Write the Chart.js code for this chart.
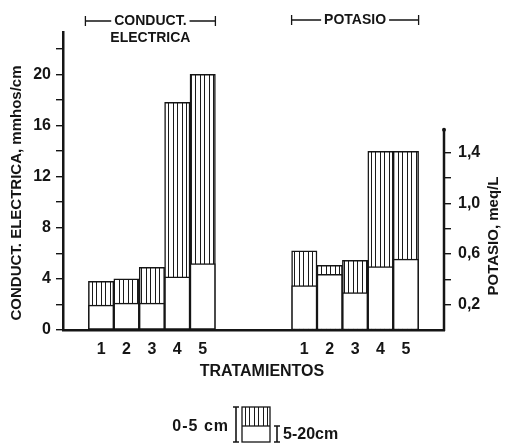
<!DOCTYPE html>
<html>
<head>
<meta charset="utf-8">
<script src="https://cdn.jsdelivr.net/npm/chart.js@4.4.0/dist/chart.umd.min.js"></script>
<style>
  body { margin: 0; background: #fff; }
  #wrap { width: 507px; height: 445px; position: relative; }
</style>
</head>
<body>
<div id="wrap"><canvas id="chart"></canvas></div>
<script>
// Tratamientos y valores
const treatments = ['1', '2', '3', '4', '5'];
// conductividad electrica, mmhos/cm
const ce0to5 = [3.8, 4.0, 4.9, 17.8, 20.0];
const ce5to20 = [1.95, 2.1, 2.1, 4.15, 5.2];
// potasio, meq/L
const k0to5 = [0.625, 0.51, 0.55, 1.41, 1.41];
const k5to20 = [0.35, 0.44, 0.295, 0.50, 0.56];
// labelled ticks
const ceTicks = [0, 4, 8, 12, 16, 20];
const kTicks = [0.2, 0.6, 1.0, 1.4];

const INK = '#151515';
const FONT = '"Liberation Sans", Arial, sans-serif';

// 15 slots: pad, 5 bars, 3 gap, 5 bars, pad
const labels = ['', ...treatments, '', '', '', ...treatments, ''];
function place(values, start) {
    const out = labels.map(() => null);
    values.forEach((v, i) => { out[start + i] = v; });
    return out;
}

// vertical hatching for the 0-5 cm layer
function makeHatch() {
    const c = document.createElement('canvas');
    c.width = 9; c.height = 4;
    const g = c.getContext('2d');
    g.fillStyle = '#fff';
    g.fillRect(0, 0, 9, 4);
    g.fillStyle = '#1a1a1a';
    g.fillRect(2, 0, 1, 4);
    g.fillRect(6, 0, 1, 4);
    return g.createPattern(c, 'repeat');
}
const hatch = makeHatch();

function bracketTitle(ctx, x1, x2, y, text) {
    ctx.font = 'bold 14px ' + FONT;
    const w = ctx.measureText(text).width;
    const cx = (x1 + x2) / 2;
    ctx.fillText(text, cx, y);
    ctx.beginPath();
    ctx.moveTo(x1, y); ctx.lineTo(cx - w / 2 - 3, y);
    ctx.moveTo(cx + w / 2 + 3, y); ctx.lineTo(x2, y);
    ctx.moveTo(x1, y - 5); ctx.lineTo(x1, y + 5);
    ctx.moveTo(x2, y - 5); ctx.lineTo(x2, y + 5);
    ctx.stroke();
}

function ibeam(ctx, x, y1, y2) {
    ctx.beginPath();
    ctx.moveTo(x, y1); ctx.lineTo(x, y2);
    ctx.moveTo(x - 3, y1); ctx.lineTo(x + 3, y1);
    ctx.moveTo(x - 3, y2); ctx.lineTo(x + 3, y2);
    ctx.stroke();
}

const extras = {
    id: 'extras',
    afterDraw(chart) {
        const ctx = chart.ctx;
        const x = chart.scales.x;
        const yR = chart.scales.yR;
        const area = chart.chartArea;
        const slot = (x.getPixelForValue(1) - x.getPixelForValue(0));
        ctx.save();
        ctx.strokeStyle = INK;
        ctx.fillStyle = INK;

        // right axis line, shorter than the left one
        ctx.lineWidth = 2.5;
        const top = yR.getPixelForValue(1.58);
        ctx.beginPath();
        ctx.moveTo(area.right, yR.getPixelForValue(0) + 1);
        ctx.lineTo(area.right, top);
        ctx.stroke();
        ctx.beginPath();
        ctx.arc(area.right, top, 2, 0, Math.PI * 2);
        ctx.fill();

        // group headers
        ctx.lineWidth = 1.3;
        ctx.textAlign = 'center';
        ctx.textBaseline = 'middle';
        const l1 = x.getPixelForValue(1) - slot / 2 - 3;
        const l2 = x.getPixelForValue(5) + slot / 2;
        bracketTitle(ctx, l1, l2, 21, 'CONDUCT.');
        ctx.font = 'bold 14px ' + FONT;
        ctx.fillText('ELECTRICA', (l1 + l2) / 2, 38);
        const r1 = x.getPixelForValue(9) - slot / 2;
        const r2 = x.getPixelForValue(13) + slot / 2;
        bracketTitle(ctx, r1, r2, 20, 'POTASIO');

        // axis titles
        ctx.font = 'bold 15px ' + FONT;
        ctx.save();
        ctx.translate(17, 193);
        ctx.rotate(-Math.PI / 2);
        ctx.fillText('CONDUCT. ELECTRICA, mmhos/cm', 0, 0);
        ctx.restore();
        ctx.save();
        ctx.translate(494, 236);
        ctx.rotate(-Math.PI / 2);
        ctx.fillText('POTASIO, meq/L', 0, 0);
        ctx.restore();

        ctx.font = 'bold 16px ' + FONT;
        ctx.fillText('TRATAMIENTOS', 262, 372);

        // legend
        const bx = 242, bw = 28, bt = 407, bm = 426, bb = 442;
        ctx.fillStyle = hatch;
        ctx.fillRect(bx, bt, bw, bm - bt);
        ctx.fillStyle = '#fff';
        ctx.fillRect(bx, bm, bw, bb - bm);
        ctx.lineWidth = 1.3;
        ctx.strokeRect(bx, bt, bw, bb - bt);
        ctx.beginPath();
        ctx.moveTo(bx, bm); ctx.lineTo(bx + bw, bm);
        ctx.stroke();
        ctx.lineWidth = 1.6;
        ibeam(ctx, 236, bt, bb);
        ibeam(ctx, 277, bm, bb);
        ctx.fillStyle = INK;
        ctx.font = 'bold 16px ' + FONT;
        ctx.letterSpacing = '1px';
        ctx.textAlign = 'right';
        ctx.fillText('0-5 cm', 229, 427);
        ctx.letterSpacing = '0px';
        ctx.textAlign = 'left';
        ctx.fillText('5-20cm', 283, 435);
        ctx.restore();
    }
};

const barStyle = {
    borderColor: INK,
    borderWidth: 1.5,
    borderSkipped: false,
    grouped: false,
    barPercentage: 1,
    categoryPercentage: 1
};

const tickFont = { family: FONT, size: 16, weight: 'bold' };

new Chart(document.getElementById('chart'), {
    type: 'bar',
    data: {
        labels: labels,
        datasets: [
            // first datasets are painted last, so the 5-20 cm bars sit in front
            { label: '5-20cm', data: place(ce5to20, 1), yAxisID: 'yL', backgroundColor: '#fff', ...barStyle },
            { label: '5-20cm', data: place(k5to20, 9), yAxisID: 'yR', backgroundColor: '#fff', ...barStyle },
            { label: '0-5 cm', data: place(ce0to5, 1), yAxisID: 'yL', backgroundColor: hatch, ...barStyle },
            { label: '0-5 cm', data: place(k0to5, 9), yAxisID: 'yR', backgroundColor: hatch, ...barStyle }
        ]
    },
    options: {
        responsive: true,
        maintainAspectRatio: false,
        animation: false,
        layout: { padding: { top: 32, left: 0, right: 0, bottom: 0 } },
        plugins: {
            legend: { display: false },
            tooltip: { enabled: false }
        },
        scales: {
            x: {
                type: 'category',
                grid: { display: false, drawTicks: false },
                border: { display: true, color: INK, width: 2.5 },
                ticks: {
                    color: INK,
                    font: tickFont,
                    padding: 10,
                    autoSkip: false,
                    maxRotation: 0
                },
                afterFit(scale) { scale.height = 115; }
            },
            yL: {
                position: 'left',
                min: 0,
                max: 23.3,
                grid: { drawOnChartArea: false, color: INK, lineWidth: 1.4, tickLength: 7 },
                border: { color: INK, width: 2.5 },
                ticks: {
                    stepSize: 2,
                    includeBounds: false,
                    color: INK,
                    font: tickFont,
                    padding: 5,
                    callback: (v) => ceTicks.includes(v) ? String(v) : ''
                },
                afterFit(scale) { scale.width = 63; }
            },
            yR: {
                position: 'right',
                min: 0,
                max: 2.352,
                grid: { drawOnChartArea: false, color: INK, lineWidth: 1.4, tickLength: 7 },
                border: { display: false },
                ticks: {
                    stepSize: 0.2,
                    includeBounds: false,
                    color: INK,
                    font: tickFont,
                    padding: 7,
                    callback: (v) => kTicks.some(t => Math.abs(t - v) < 1e-6) ? v.toFixed(1).replace('.', ',') : ''
                },
                afterBuildTicks(scale) {
                    scale.ticks = scale.ticks.filter(t => t.value > 0.01 && t.value < 1.5);
                },
                afterFit(scale) { scale.width = 63; }
            }
        }
    },
    plugins: [extras]
});
</script>
</body>
</html>
